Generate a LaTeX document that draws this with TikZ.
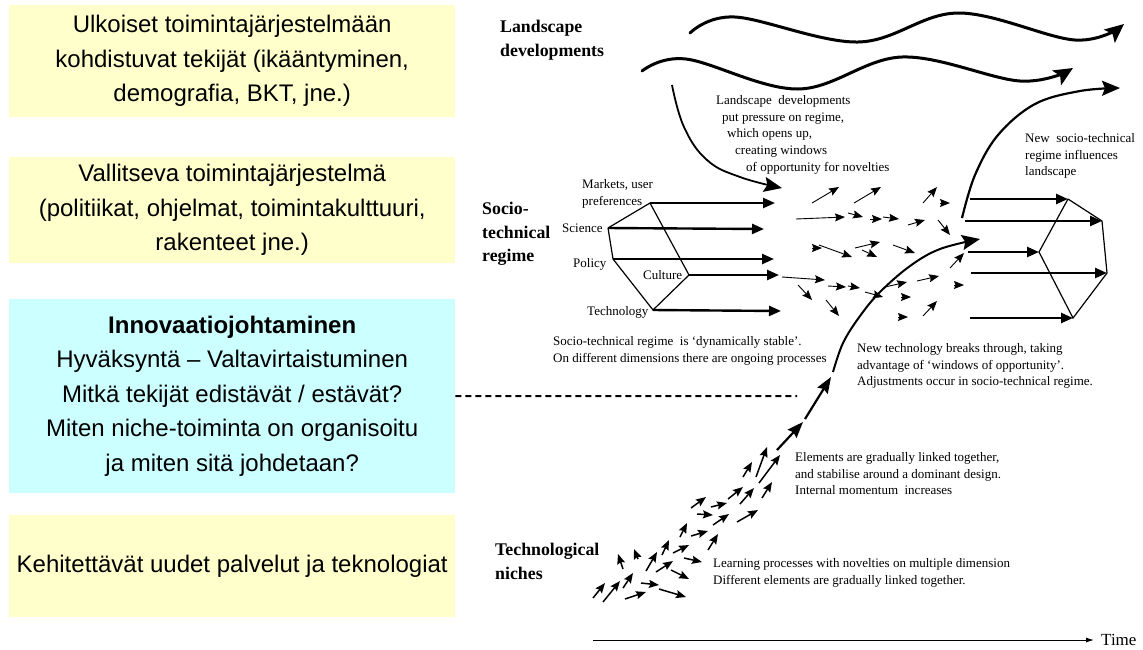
\documentclass[tikz,border=0pt]{standalone}
\usepackage{fontspec}
\setmainfont{Liberation Serif}
\newfontfamily\boxfont{Liberation Sans}
\usetikzlibrary{arrows.meta}
\definecolor{paleyellow}{HTML}{FFFFCC}
\definecolor{palecyan}{HTML}{CCFFFF}

\begin{document}
\begin{tikzpicture}[x=1pt,y=-1pt,
  panel/.style={anchor=north west, minimum width=446pt, inner sep=0pt,
    align=center, font=\boxfont\fontsize{24}{34.5}\selectfont},
  small/.style={anchor=north west, inner sep=0pt, align=left,
    font=\fontsize{13}{16.8}\selectfont},
  word/.style={anchor=west, inner sep=0pt, font=\fontsize{13}{16.8}\selectfont},
  level/.style={anchor=north west, inner sep=0pt, align=left,
    font=\bfseries\fontsize{17.8}{23.5}\selectfont},
  wave/.style={line width=3pt, line cap=round, -{Stealth[length=19pt,width=17pt,inset=4pt]}},
  push/.style={line width=1.8pt, -{Stealth[length=18pt,width=15pt,inset=3pt]}},
  thickarrow/.style={line width=2.4pt, -{Triangle[length=12pt,width=10pt]}},
  nichearrow/.style={line width=2.2pt, -{Stealth[length=16pt,width=12pt,inset=2pt]}},
  tinyarrow/.style={line width=0.9pt, -{Stealth[length=10pt,width=8pt,inset=1.5pt]}},
  edge/.style={line width=1.2pt}
]
\useasboundingbox (0,0) rectangle (1143,649);

% ---- left column: coloured panels ----
\node[panel, fill=paleyellow, minimum height=112pt] (ext) at (9,5)
  {Ulkoiset toimintajärjestelmään\\kohdistuvat tekijät (ikääntyminen,\\demografia, BKT, jne.)};
\node[panel, fill=paleyellow, minimum height=106pt] (reg) at (9,157)
  {Vallitseva toimintajärjestelmä\\(politiikat, ohjelmat, toimintakulttuuri,\\rakenteet jne.)};
\node[panel, fill=palecyan, minimum height=194pt] (inno) at (9,299)
  {\textbf{Innovaatiojohtaminen}\\Hyväksyntä – Valtavirtaistuminen\\Mitkä tekijät edistävät / estävät?\\Miten niche-toiminta on organisoitu\\ja miten sitä johdetaan?};
\node[panel, fill=paleyellow, minimum height=102pt] (new) at (9,515)
  {Kehitettävät uudet palvelut ja teknologiat};

\coordinate (dashend) at (797,396);
\draw[line width=2pt, dash pattern=on 6pt off 4pt] (inno.east) -- (dashend);

% ---- level labels ----
\node[level] (lland) at (500,20) {Landscape\\developments};
\node[level] (lsoc) at (482,202) {Socio-\\technical\\regime};
\node[level] (lniche) at (495,543) {Technological\\niches};

% ---- landscape waves ----
\draw[wave] plot[smooth, tension=0.6] coordinates
  {(690,33) (735,17) (858,42) (958,13) (1075,40) (1124,24)};
\draw[wave] plot[smooth, tension=0.6] coordinates
  {(642,71) (686,59) (798,89) (902,57) (1020,81) (1073,68)};

% pressure from the landscape onto the regime
\draw[push] plot[smooth, tension=0.7] coordinates
  {(672,85) (684,127) (707,160) (740,177) (782,188)};

\node[small] (press) at (716,95)
  {Landscape\ \ developments\\\hspace*{6pt}put pressure on regime,\\\hspace*{11pt}which opens up,\\\hspace*{19pt}creating windows\\\hspace*{30pt}of opportunity for novelties};

% ---- existing socio-technical regime ----
\coordinate (vm) at (650,203);
\coordinate (vs) at (608,228);
\coordinate (vp) at (613,259);
\coordinate (vc) at (689,275);
\coordinate (vt) at (653,310);
\coordinate (em) at (775,203);
\coordinate (es) at (764,229);
\coordinate (ep) at (774,259);
\coordinate (ec) at (779,275);
\coordinate (et) at (781,311);
\draw[edge] (vs) -- (vm) -- (vc) -- (vt) -- (vp) -- (vs);
\draw[thickarrow] (vm) -- (em);
\draw[thickarrow] (vs) -- (es);
\draw[thickarrow] (vp) -- (ep);
\draw[thickarrow] (vc) -- (ec);
\draw[thickarrow] (vt) -- (et);

\node[small, font=\fontsize{13}{17.5}\selectfont] (tm) at (582,179) {Markets, user\\preferences};
\node[word] (tsc) at (562,228) {Science};
\node[word] (tpo) at (573,264) {Policy};
\node[word] (tcu) at (643,275) {Culture};
\node[word] (tte) at (587,312) {Technology};

\node[small] (stable) at (553,336)
  {Socio-technical regime\ \ is ‘dynamically stable’.\\On different dimensions there are ongoing processes};

% ---- turbulence between the regimes ----
\foreach \ax/\ay/\bx/\by in {
  812/203/839/187, 854/203/881/187, 923/203/937/187, 940/203/950/203,
  796/219/845/217, 848/213/863/217, 870/219/882/219, 883/217/899/219,
  908/225/925/220, 938/220/950/235,
  812/248/822/248, 819/245/852/257, 855/248/880/242, 862/250/877/257,
  893/245/915/253, 950/268/964/253,
  782/277/825/280, 798/285/812/300, 828/286/846/287, 848/286/860/288,
  865/292/883/297, 885/287/907/282, 917/281/939/276, 954/285/964/285,
  826/300/839/316, 901/297/911/297, 898/317/908/317, 923/316/937/301}
  \draw[tinyarrow] (\ax,\ay) -- (\bx,\by);

% ---- breakthrough of the new technology ----
\draw[push, line width=2pt] plot[smooth, tension=0.6] coordinates
  {(833,372) (843,343) (860,316) (880,292) (910,266) (940,249) (980,239)};

\node[small] (brk) at (857,343)
  {New technology breaks through, taking\\advantage of ‘windows of opportunity’.\\Adjustments occur in socio-technical regime.};

% ---- new socio-technical regime ----
\coordinate (na) at (1068,199);
\coordinate (nb) at (1102,221);
\coordinate (nc) at (1039,252);
\coordinate (nd) at (1107,273);
\coordinate (ne) at (1073,318);
\coordinate (sa) at (970,199);
\coordinate (sb) at (965,221);
\coordinate (sc) at (968,252);
\coordinate (sd) at (971,273);
\coordinate (se) at (970,318);
\draw[edge] (na) -- (nb) -- (nd) -- (ne) -- (nc) -- (na);
\draw[thickarrow] (sa) -- (na);
\draw[thickarrow] (sb) -- (nb);
\draw[thickarrow] (sc) -- (nc);
\draw[thickarrow] (sd) -- (nd);
\draw[thickarrow] (se) -- (ne);

% feedback onto the landscape
\draw[push, line width=2.2pt] plot[smooth, tension=0.6] coordinates
  {(962,218) (975,175) (998,135) (1035,104) (1080,91) (1120,88)};

\node[small] (infl) at (1025,133) {New\ \ socio-technical\\regime influences\\landscape};

% ---- technological niches ----
\foreach \ax/\ay/\bx/\by in {
  743/477/752/462, 756/477/767/447, 759/483/780/455, 762/498/772/482,
  728/499/743/487, 740/504/754/488, 691/508/706/497, 711/507/727/503,
  697/514/713/515, 713/525/729/514, 737/522/758/510, 680/537/687/523,
  691/536/708/531, 708/550/718/534, 662/555/669/540, 673/553/689/545,
  684/558/702/562, 646/571/657/552, 656/572/673/561, 671/570/689/579,
  638/559/634/549, 623/569/618/554, 623/588/633/573, 641/583/659/585,
  603/602/620/581, 593/598/605/583, 625/599/646/592, 659/589/686/597}
  \draw[tinyarrow, line width=1.5pt] (\ax,\ay) -- (\bx,\by);

\coordinate (n1) at (777,450);
\coordinate (n2) at (803,422);
\coordinate (n3) at (805,419);
\coordinate (n4) at (831,377);
\draw[nichearrow] (n1) -- (n2);
\draw[nichearrow] (n3) -- (n4);

\node[small] (stab) at (795,452)
  {Elements are gradually linked together,\\and stabilise around a dominant design.\\Internal momentum\ \ increases};
\node[small] (learn) at (713,558)
  {Learning processes with novelties on multiple dimension\\Different elements are gradually linked together.};

% ---- time axis ----
\node[anchor=west, inner sep=0pt, font=\fontsize{17}{20}\selectfont] (time) at (1101,640) {Time};
\coordinate (t0) at (593,640);
\draw[line width=0.9pt, -{Latex[length=8pt,width=5pt]}] (t0) -- ([xshift=-7pt]time.west);

\end{tikzpicture}
\end{document}
